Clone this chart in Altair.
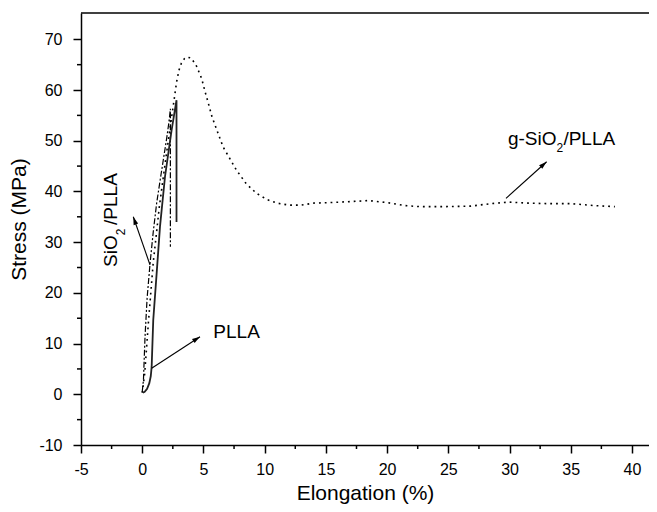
import altair as alt
import pandas as pd

# ---------------- data ----------------
g_x = [0.0, 0.2, 0.5, 0.9, 1.4, 1.9, 2.3, 2.6, 2.8, 3.0, 3.2, 3.45, 3.65, 4.0, 4.4, 4.85,
       5.13, 5.4, 5.7, 6.6, 7.7, 8.5, 9.35, 10.2, 11.0, 12.0, 13.0, 14.0, 15.3, 17.0,
       18.5, 20.0, 21.5, 22.7, 24.5, 26.8, 28.5, 30.0, 31.5, 33.0, 35.0, 37.0, 38.6]
g_y = [0.3, 4.0, 14.0, 26.0, 37.0, 46.0, 53.0, 58.0, 61.5, 63.9, 65.3, 66.2, 66.5, 66.3, 64.9, 62.3,
       59.7, 57.4, 54.7, 48.8, 44.2, 41.5, 39.6, 38.4, 37.7, 37.3, 37.3, 37.7, 37.8, 38.0,
       38.2, 37.8, 37.2, 37.0, 37.0, 37.1, 37.6, 37.9, 37.7, 37.6, 37.6, 37.2, 37.0]

s_x = [0.0, 0.1, 0.23, 0.4, 0.64, 0.9, 1.18, 1.45, 1.72, 2.0, 2.2, 2.3, 2.3]
s_y = [0.5, 2.8, 11.4, 19.0, 25.8, 32.0, 37.7, 42.0, 46.2, 50.5, 54.0, 56.3, 29.1]

p_x = [0.05, 0.2, 0.4, 0.58, 0.7, 0.77, 0.9, 1.18, 1.45, 1.86, 2.4, 2.8, 2.8]
p_y = [0.3, 0.5, 1.1, 2.2, 3.6, 5.4, 14.6, 23.9, 33.0, 42.9, 52.1, 58.0, 34.0]

x_ticks = [-5, 0, 5, 10, 15, 20, 25, 30, 35, 40]
x_minor = [-2.5, 2.5, 7.5, 12.5, 17.5, 22.5, 27.5, 32.5, 37.5]
y_ticks = [-10, 0, 10, 20, 30, 40, 50, 60, 70]
y_minor = [-5, 5, 15, 25, 35, 45, 55, 65]

# arrows: tail (x, y) -> head (x2, y2), head angle (deg)
arr_x = [29.71, 0.64, 0.77]
arr_y = [38.64, 25.5, 5.12]
arr_x2 = [33.03, -0.73, 4.72]
arr_y2 = [45.86, 35.0, 11.35]
arr_ang = [48, 341, 57]

W, H = 568, 432
XD = [-5, 41.39]
YD = [-10, 75.19]
FONT = "Liberation Sans"

def mk(xs, ys):
    return pd.DataFrame({"x": xs, "y": ys, "o": list(range(len(xs)))})

xs = alt.Scale(domain=XD, nice=False, zero=False)
ys = alt.Scale(domain=YD, nice=False, zero=False)

common = dict(grid=False, tickSize=8, labelFontSize=16, titleFontWeight="normal",
              labelFont=FONT, titleFont=FONT, labelColor="black", titleColor="black",
              domainColor="black", tickColor="black", domainWidth=1.5, tickWidth=1.5,
              labelFlush=False, labelExpr="'' + datum.value")
xaxis = alt.Axis(values=x_ticks, title="Elongation (%)", titleFontSize=21,
                 labelPadding=8, titlePadding=5, **common)
yaxis = alt.Axis(values=y_ticks, title="Stress (MPa)", titleFontSize=21, titleY=206,
                 labelPadding=11, titlePadding=9, **common)

base_x = alt.X("x:Q", scale=xs, axis=xaxis)
base_y = alt.Y("y:Q", scale=ys, axis=yaxis)

g_line = alt.Chart(mk(g_x, g_y)).mark_line(color="black", strokeWidth=1.6, strokeDash=[1.8, 4]).encode(
    x=base_x, y=base_y, order="o:Q")
s_line = alt.Chart(mk(s_x, s_y)).mark_line(color="black", strokeWidth=1.2, strokeDash=[6, 2, 2, 2]).encode(
    x="x:Q", y="y:Q", order="o:Q")
p_line = alt.Chart(mk(p_x, p_y)).mark_line(color="#222", strokeWidth=1.8).encode(
    x="x:Q", y="y:Q", order="o:Q")

xm = alt.Chart(pd.DataFrame({"x": x_minor})).mark_rule(color="black", strokeWidth=1.5).encode(
    x="x:Q", y=alt.value(H), y2=alt.value(H + 4))
ym = alt.Chart(pd.DataFrame({"y": y_minor})).mark_rule(color="black", strokeWidth=1.5).encode(
    y="y:Q", x=alt.value(0), x2=alt.value(-4))
top = alt.Chart(pd.DataFrame({"a": [0]})).mark_rule(color="black", strokeWidth=1.5).encode(
    x=alt.value(0), x2=alt.value(W), y=alt.value(0))

arr_df = pd.DataFrame({"x": arr_x, "y": arr_y, "x2": arr_x2, "y2": arr_y2, "a": arr_ang})
arr_lines = alt.Chart(arr_df).mark_rule(color="black", strokeWidth=1.1).encode(
    x="x:Q", y="y:Q", x2="x2", y2="y2")
arr_heads = alt.Chart(arr_df).mark_point(
    shape="M0,0L-0.6,2L0.6,2Z", filled=True, color="black", size=64, opacity=1).encode(
    x="x2:Q", y="y2:Q", angle=alt.Angle("a:Q", scale=None))

def txt(t, x, y, size=19, angle=0, align="left"):
    return alt.Chart(pd.DataFrame({"x": [x], "y": [y], "t": [t]})).mark_text(
        font=FONT, fontSize=size, color="black", align=align, baseline="alphabetic",
        angle=angle).encode(x="x:Q", y="y:Q", text="t:N")

labels = [
    txt("PLLA", 5.81, 11.04),
    txt("g-SiO", 33.84, 49.16, align="right"),
    txt("2", 33.84, 47.84, size=12),
    txt("/PLLA", 34.4, 49.16),
    txt("SiO", -2.05, 25.1, angle=270),
    txt("2", -1.4, 31.35, size=12, angle=270),
    txt("/PLLA", -2.05, 33.4, angle=270),
]

chart = alt.layer(g_line, s_line, p_line, xm, ym, top, arr_lines, arr_heads, *labels).properties(
    width=W, height=H,
    autosize=alt.AutoSizeParams(type="none"),
    padding={"left": 73, "top": 5, "right": 0, "bottom": 62},
).configure_view(stroke=None)

chart.save("out.html", embed_options={"renderer": "svg", "actions": False})
